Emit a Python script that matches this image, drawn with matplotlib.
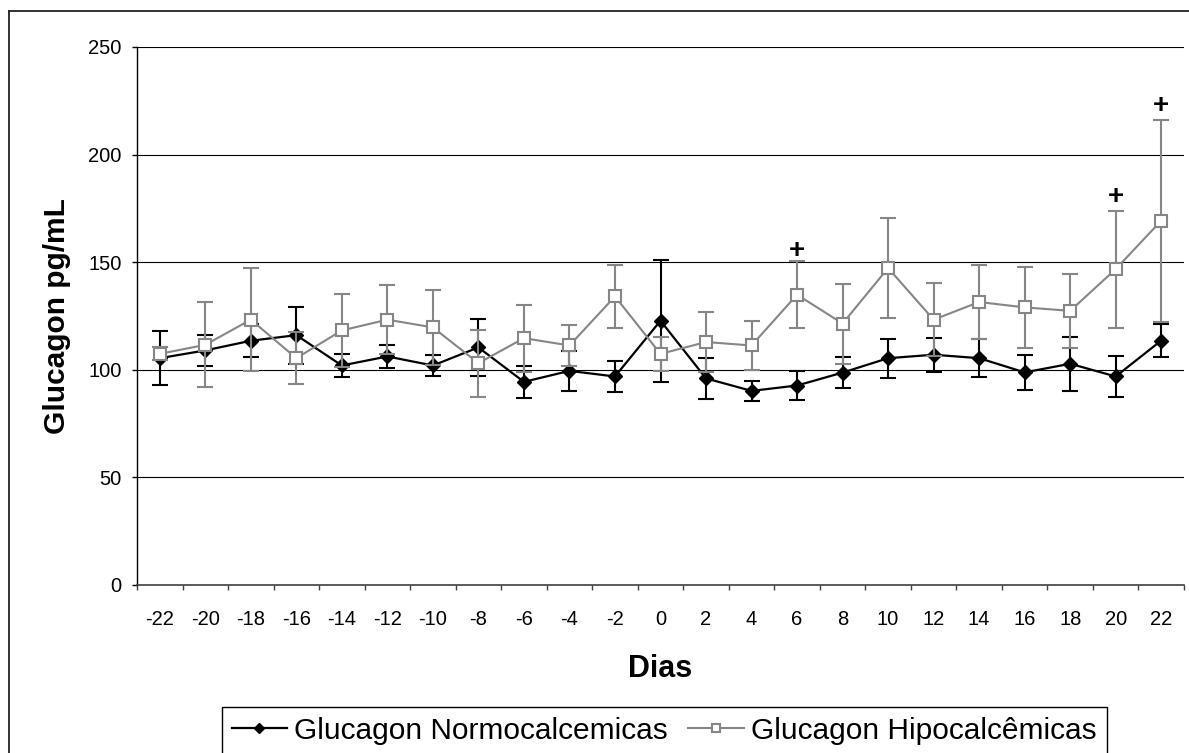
import matplotlib
matplotlib.use("Agg")
import matplotlib.pyplot as plt
from matplotlib.lines import Line2D

plt.rcParams['font.family'] = ['Liberation Sans', 'DejaVu Sans']

# ---- data ----
days = [-22, -20, -18, -16, -14, -12, -10, -8, -6, -4, -2, 0, 2, 4, 6, 8, 10, 12, 14, 16, 18, 20, 22]
normo = [105.4, 109.0, 113.5, 116.1, 102.0, 106.2, 102.0, 110.4, 94.4, 99.5, 96.9, 122.8,
         96.0, 90.2, 92.7, 98.7, 105.4, 107.0, 105.4, 98.8, 102.8, 96.9, 113.6]
normo_err = [12.5, 7.4, 7.6, 13.3, 5.5, 5.5, 5.0, 13.3, 7.5, 9.2, 7.4, 28.3,
             9.6, 4.5, 6.6, 7.2, 9.0, 8.0, 8.7, 8.0, 12.5, 9.5, 7.6]
hipo = [107.4, 111.6, 123.3, 105.4, 118.3, 123.3, 119.7, 103.1, 114.7, 111.3, 134.1, 107.4,
        112.9, 111.3, 134.9, 121.5, 147.3, 123.3, 131.5, 129.0, 127.4, 146.8, 169.3]
hipo_err = [3.0, 19.8, 23.8, 12.0, 17.0, 16.0, 17.3, 15.6, 15.5, 9.7, 14.8, 7.8,
            14.0, 11.2, 15.7, 18.6, 23.3, 17.0, 17.0, 19.0, 17.3, 27.2, 47.0]
plus_days = [6, 20, 22]
plus_vals = [155.3, 180.6, 222.8]
yticks = [0, 50, 100, 150, 200, 250]
label_normo = 'Glucagon Normocalcemicas'
label_hipo = 'Glucagon Hipocalcêmicas'

W, H = 1189, 753
fig = plt.figure(figsize=(W / 100, H / 100), dpi=100)
ax = fig.add_axes([137 / W, 168 / H, 1047 / W, 538 / H])

x = list(range(len(days)))
gray = '#868686'

# gridlines
for t in yticks:
    if t > 0:
        ax.axhline(t, color='black', lw=0.8, zorder=0.5)

# black series
ax.errorbar(x, normo, yerr=normo_err, fmt='none', ecolor='black', elinewidth=1.5,
            capsize=5.5, capthick=1.5, zorder=2)
ln1, = ax.plot(x, normo, color='black', lw=1.6, marker='D', ms=7.5,
               mfc='black', mec='black', mew=1, zorder=3, label=label_normo)

# gray series
ax.errorbar(x, hipo, yerr=hipo_err, fmt='none', ecolor=gray, elinewidth=1.5,
            capsize=5.5, capthick=1.5, zorder=4)
ln2, = ax.plot(x, hipo, color=gray, lw=1.5, marker='s', ms=8,
               mfc='white', mec=gray, mew=1.5, zorder=5, label=label_hipo)

# significance markers
for d, v in zip(plus_days, plus_vals):
    ax.annotate('+', xy=(days.index(d), v), xytext=(0, -5.5), textcoords='offset points',
                ha='center', va='baseline', fontsize=20, fontweight='bold', color='black',
                zorder=6)

ax.set_xlim(-0.5, len(days) - 0.5)
ax.set_ylim(0, 250)
ax.set_yticks(yticks)
ax.set_xticks(x)
ax.set_xticklabels([str(d) for d in days])
ax.set_xticks([i - 0.5 for i in range(len(days) + 1)], minor=True)

ax.tick_params(axis='x', which='major', length=0, pad=18, labelsize=14.5)
ax.tick_params(axis='x', which='minor', length=3.8, width=1, color='#404040', direction='out')
ax.tick_params(axis='y', which='major', length=3.7, width=1, pad=7.5, labelsize=14.5, direction='out')

for s in ['top', 'right']:
    ax.spines[s].set_visible(False)
ax.spines['left'].set_color('black')
ax.spines['left'].set_linewidth(1)
ax.spines['bottom'].set_color('#404040')
ax.spines['bottom'].set_linewidth(1.2)

ax.set_xlabel('Dias', fontsize=22, fontweight='bold', labelpad=18)
ax.set_ylabel('Glucagon pg/mL', fontsize=21.5, fontweight='bold', labelpad=12)

fig.legend(handles=[ln1, ln2], loc='upper left', bbox_to_anchor=(221.7 / W, 1 - 706.7 / H),
           ncol=2, fontsize=21.5, frameon=True, fancybox=False, framealpha=1,
           edgecolor='black', borderpad=0.34, borderaxespad=0, handlelength=1.85,
           handletextpad=0.24, columnspacing=0.68, markerscale=0.7)

# outer chart border (left and top visible)
fig.add_artist(Line2D([9 / W, 9 / W], [0, 1 - 11 / H], transform=fig.transFigure,
                      color='#222222', lw=1.3))
fig.add_artist(Line2D([9 / W, 1], [1 - 11 / H, 1 - 11 / H], transform=fig.transFigure,
                      color='#222222', lw=1.3))

fig.savefig('out.png', dpi=100, facecolor='white')
